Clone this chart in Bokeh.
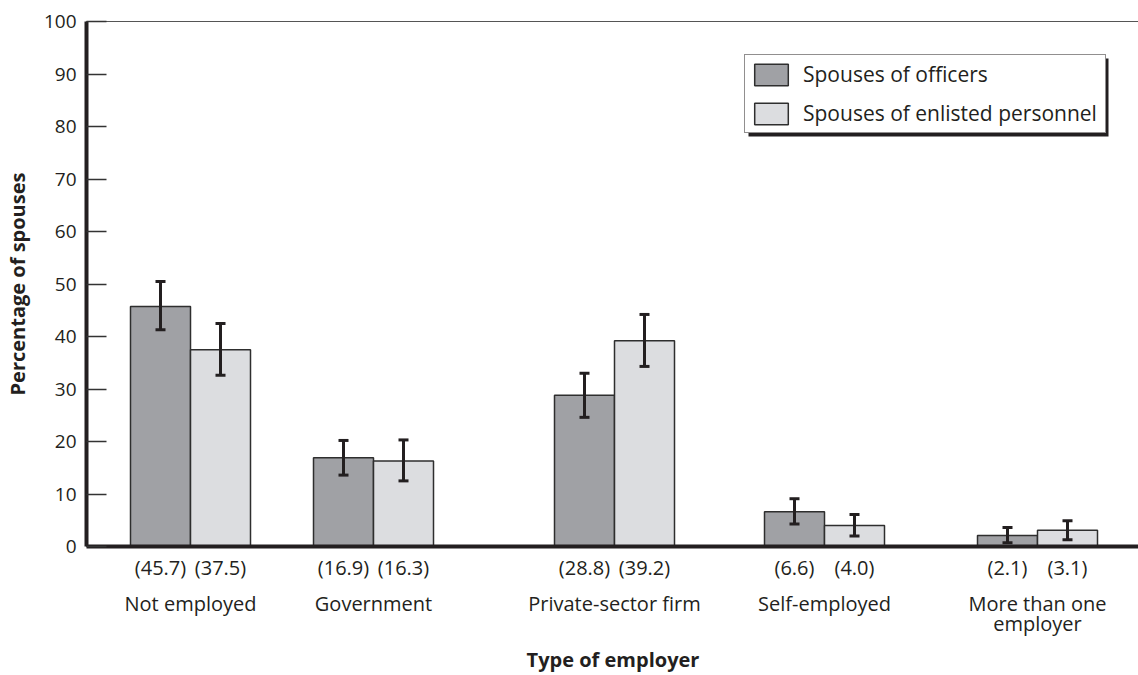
from bokeh.plotting import figure
from bokeh.models import (Range1d, FixedTicker, LinearAxis, ColumnDataSource, Whisker,
                          TeeHead, Legend, LegendItem, BoxAnnotation)
from bokeh.embed import file_html
from bokeh.resources import INLINE

# ---- data ----
categories = ["Not employed", "Government", "Private-sector firm", "Self-employed",
              "More than one\nemployer"]
officers = [45.7, 16.9, 28.8, 6.6, 2.1]
enlisted = [37.5, 16.3, 39.2, 4.0, 3.1]
officers_lo = [41.3, 13.6, 24.6, 4.3, 0.7]
officers_hi = [50.5, 20.2, 33.0, 9.1, 3.6]
enlisted_lo = [32.6, 12.5, 34.3, 2.0, 1.3]
enlisted_hi = [42.5, 20.3, 44.2, 6.1, 4.9]
y_ticks = [0, 10, 20, 30, 40, 50, 60, 70, 80, 90, 100]

# ---- layout (frame pixels == x units) ----
group_centers = [104, 287, 528, 738, 951]
bar_w = 60
FONT = "Open Sans"
INK = "#231f20"
OFF_COL = "#a0a1a5"
ENL_COL = "#dcdde0"
FRAME_W, FRAME_H = 1053, 525

p = figure(frame_width=FRAME_W, frame_height=FRAME_H, output_backend="svg", toolbar_location=None,
           x_range=Range1d(0, FRAME_W), y_range=Range1d(0, 100),
           min_border_left=77, min_border_right=0, min_border_top=21, min_border_bottom=0,
           x_axis_location=None)
p.grid.visible = False
p.outline_line_color = "#555555"
p.outline_line_width = 1
p.background_fill_color = "white"
p.border_fill_color = "white"

off_x = [c - bar_w / 2 for c in group_centers]
enl_x = [c + bar_w / 2 for c in group_centers]

src_o = ColumnDataSource(dict(x=off_x, top=officers, lo=officers_lo, hi=officers_hi))
src_e = ColumnDataSource(dict(x=enl_x, top=enlisted, lo=enlisted_lo, hi=enlisted_hi))

r_o = p.vbar(x="x", top="top", bottom=0, width=bar_w, source=src_o,
             fill_color=OFF_COL, line_color="#2e2e2e", line_width=1.5)
r_e = p.vbar(x="x", top="top", bottom=0, width=bar_w, source=src_e,
             fill_color=ENL_COL, line_color="#2e2e2e", line_width=1.5)

for src in (src_o, src_e):
    w = Whisker(source=src, base="x", lower="lo", upper="hi", line_color=INK, line_width=3,
                level="overlay",
                upper_head=TeeHead(size=10, line_color=INK, line_width=3),
                lower_head=TeeHead(size=10, line_color=INK, line_width=3))
    p.add_layout(w)

# ---- y axis ----
ya = p.yaxis[0]
ya.ticker = FixedTicker(ticks=y_ticks)
ya.axis_line_width = 4
ya.axis_line_color = INK
ya.major_tick_in = 20
ya.major_tick_out = 0
ya.major_tick_line_width = 1.5
ya.major_tick_line_color = "#333333"
ya.minor_tick_line_color = None
ya.major_label_text_font = FONT
ya.major_label_text_font_size = "19px"
ya.major_label_text_color = INK
ya.major_label_standoff = 10
ya.axis_label = "Percentage of spouses"
ya.axis_label_text_font = FONT
ya.axis_label_text_font_size = "20px"
ya.axis_label_text_font_style = "bold"
ya.axis_label_text_color = INK
ya.axis_label_standoff = 10

# ---- x axes ----
bar_centers = []
val_labels = {}
for xo, xe, vo, ve in zip(off_x, enl_x, officers, enlisted):
    bar_centers += [xo, xe]
    val_labels[xo] = f"({vo:.1f})"
    val_labels[xe] = f"({ve:.1f})"

xa1 = LinearAxis(ticker=FixedTicker(ticks=bar_centers), major_label_overrides=val_labels)
xa1.axis_line_width = 4
xa1.axis_line_color = INK
xa1.major_tick_in = 0
xa1.major_tick_out = 0
xa1.minor_tick_line_color = None
xa1.major_label_text_font = FONT
xa1.major_label_text_font_size = "20px"
xa1.major_label_text_color = INK
xa1.major_label_standoff = 7
p.add_layout(xa1, "below")

xa2 = LinearAxis(ticker=FixedTicker(ticks=group_centers),
                 major_label_overrides={c: n for c, n in zip(group_centers, categories)})
xa2.axis_line_color = None
xa2.major_tick_line_color = None
xa2.major_tick_in = 0
xa2.major_tick_out = 0
xa2.minor_tick_line_color = None
xa2.major_label_text_font = FONT
xa2.major_label_text_font_size = "20px"
xa2.major_label_text_line_height = 0.77
xa2.major_label_text_color = INK
xa2.major_label_standoff = 6
xa2.axis_label = "Type of employer"
xa2.axis_label_text_font = FONT
xa2.axis_label_text_font_size = "20px"
xa2.axis_label_text_font_style = "bold"
xa2.axis_label_text_color = INK
xa2.axis_label_standoff = 6
p.add_layout(xa2, "below")

# ---- legend with drop shadow ----
px_per_y = FRAME_H / 100
leg_left, leg_bottom, leg_w, leg_h = 658, 413, 360, 78
sh_x, sh_y = 4, 3
pad, gw, gh, stand = 5, 42, 27, 11
shadow = BoxAnnotation(left=leg_left + sh_x, right=leg_left + leg_w + sh_x,
                       bottom=(leg_bottom - sh_y) / px_per_y,
                       top=(leg_bottom + leg_h - sh_y) / px_per_y,
                       fill_color=INK, fill_alpha=1, line_color=None)
p.add_layout(shadow)

legend = Legend(items=[LegendItem(label="Spouses of officers", renderers=[r_o]),
                       LegendItem(label="Spouses of enlisted personnel", renderers=[r_e])],
                location=(leg_left, leg_bottom), orientation="vertical",
                glyph_width=gw, glyph_height=gh, label_height=21, label_standoff=stand,
                label_width=leg_w - 2 * pad - gw - stand, padding=pad, spacing=11, margin=0,
                border_line_color=INK, border_line_width=1.5,
                background_fill_color="white", background_fill_alpha=1,
                label_text_font=FONT, label_text_font_size="21px", label_text_color=INK)
p.add_layout(legend, "center")

open("out.html", "w").write(file_html(p, INLINE))
